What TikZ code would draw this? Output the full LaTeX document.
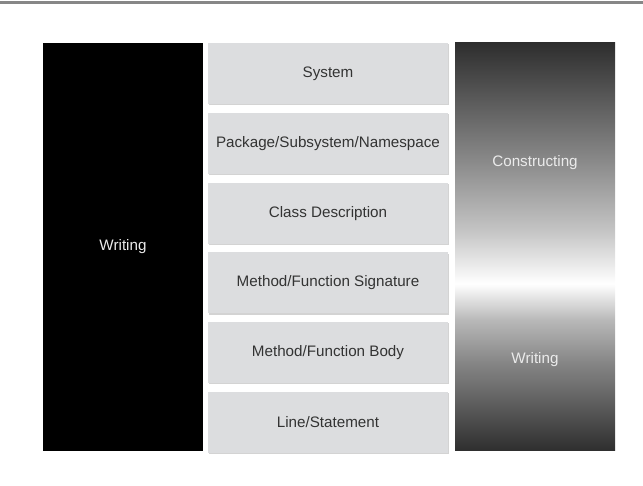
\documentclass[tikz,border=0pt]{standalone}
\usepackage{fontspec}
\setmainfont{Liberation Sans}
\usetikzlibrary{positioning,shadows}

\definecolor{layergray}{HTML}{DCDDDF}
\definecolor{textgray}{HTML}{333333}
\definecolor{rulegray}{HTML}{878787}
\definecolor{fadedark}{HTML}{2E2E2E}

% light band in the lower middle of the right column
\pgfdeclareverticalshading{fadeband}{100bp}{
  color(0bp)=(fadedark); color(25bp)=(fadedark);
  color(36bp)=(black!47); color(41bp)=(black!28);
  color(45.5bp)=(white); color(52bp)=(black!23);
  color(60.5bp)=(black!46); color(75bp)=(fadedark);
  color(100bp)=(fadedark)}

\tikzset{
  layer/.style={fill=layergray, minimum width=240pt, minimum height=61pt,
    inner sep=0pt, text=textgray, font=\fontsize{15.2}{18}\selectfont,
    drop shadow={shadow xshift=0.6pt, shadow yshift=-1.2pt, opacity=0.35}},
  column/.style={minimum width=160pt, minimum height=408pt, inner sep=0pt},
  coltext/.style={text=white!92!black, font=\fontsize{15.2}{18}\selectfont}
}

\begin{document}
\begin{tikzpicture}[x=1pt, y=1pt]
  \useasboundingbox (0,0) rectangle (643,486);

  % Rule at the top
  \draw[rulegray, line width=2.5pt] (0,483.5) -- (643,483.5);

  % Left column
  \node[column, fill=black] (writecol) at (123,239) {};
  \node[coltext] (writelbl) at (writecol.center) {Writing};

  % Layers in the middle
  \node[layer] (system) at (328,412.5) {System};
  \node[layer, below=8.4pt of system] (package) {Package/Subsystem/Namespace};
  \node[layer, below=8.4pt of package] (class) {Class Description};
  \node[layer, below=8.4pt of class] (signature) {Method/Function Signature};
  \node[layer, below=8.4pt of signature] (body) {Method/Function Body};
  \node[layer, below=8.4pt of body] (line) {Line/Statement};

  % Right column with fade
  \node[column, shading=fadeband] (fadecol) at (535,239) {};
  \node[coltext] (constrlbl) at (535,323) {Constructing};
  \node[coltext] (writelbl2) at (535,126) {Writing};
\end{tikzpicture}
\end{document}
